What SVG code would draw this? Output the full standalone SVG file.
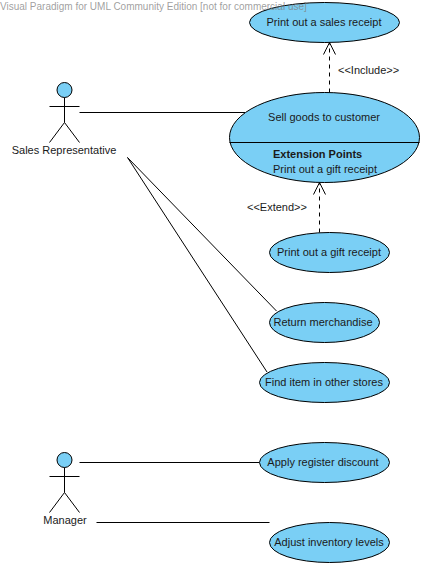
<svg xmlns="http://www.w3.org/2000/svg" width="423" height="566" viewBox="0 0 423 566">
<style>
text{font-family:"Liberation Sans",Arial,sans-serif;font-size:11px;fill:#1a1a1a}
.uc{fill:#7acff5;stroke:#000;stroke-width:1}
.ln{fill:none;stroke:#000;stroke-width:1}
.dash{stroke-dasharray:4 4}
.c{text-anchor:middle}
</style>
<defs>
<marker id="open" markerUnits="userSpaceOnUse" markerWidth="16" markerHeight="16" refX="13" refY="7" orient="auto">
<path d="M1 1 L13 7 L1 13" fill="none" stroke="#000"/>
</marker>
<g id="stick"><circle class="uc" cx="64.5" cy="0" r="7.5"/><path class="ln" d="M64.5 7.500V32.500M49.500 16.500H79.500M49.500 52.500L64.500 32.500L79.500 52.500"/></g>
</defs>
<g id="connectors">
<path class="ln" d="M79.500 112.500H245"/>
<path class="ln" d="M127.500 157.500L276.500 311"/>
<path class="ln" d="M127.500 157.500L267 372"/>
<path class="ln" d="M79.500 462.500H259.500"/>
<path class="ln" d="M96.500 522.500H269.500"/>
<path class="ln dash" d="M329.500 92.500V42.500" marker-end="url(#open)"/>
<path class="ln dash" d="M319.500 232.500V182.500" marker-end="url(#open)"/>
<text x="338" y="74">&lt;&lt;Include&gt;&gt;</text>
<text x="247" y="211">&lt;&lt;Extend&gt;&gt;</text>
</g>
<g id="actor-sales"><use href="#stick" y="90"/><text class="c" x="64" y="154">Sales Representative</text></g>
<g id="actor-manager"><use href="#stick" y="460"/><text class="c" x="65" y="524">Manager</text></g>
<g id="uc-sales-receipt"><ellipse class="uc" cx="324.500" cy="22.500" rx="75" ry="20"/><text class="c" x="324" y="26">Print out a sales receipt</text></g>
<g id="uc-sell"><ellipse class="uc" cx="324.500" cy="137.500" rx="95" ry="45"/><path class="ln" d="M229.500 142.500H419.500"/><text class="c" x="324" y="121">Sell goods to customer</text><text x="273" y="158" font-weight="bold">Extension Points</text><text x="273" y="173">Print out a gift receipt</text></g>
<g id="uc-gift"><ellipse class="uc" cx="329.500" cy="252.500" rx="60" ry="20"/><text class="c" x="329" y="256">Print out a gift receipt</text></g>
<g id="uc-return"><ellipse class="uc" cx="324.500" cy="322.500" rx="55" ry="20"/><text class="c" x="323" y="326">Return merchandise</text></g>
<g id="uc-find"><ellipse class="uc" cx="324.500" cy="382.500" rx="65" ry="20"/><text class="c" x="324" y="386">Find item in other stores</text></g>
<g id="uc-apply"><ellipse class="uc" cx="324.500" cy="462.500" rx="65" ry="20"/><text class="c" x="323" y="466">Apply register discount</text></g>
<g id="uc-adjust"><ellipse class="uc" cx="329.500" cy="542.500" rx="60" ry="20"/><text class="c" x="329" y="546">Adjust inventory levels</text></g>
<text id="watermark" x="0" y="10" style="fill:#808080;fill-opacity:0.75;font-size:10px">Visual Paradigm for UML Community Edition [not for commercial use]</text>
</svg>
